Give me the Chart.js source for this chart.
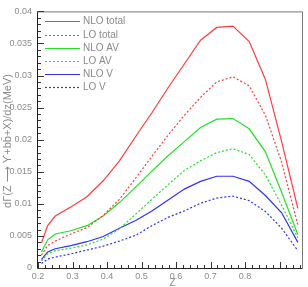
<!DOCTYPE html>
<html lang="en">
<head>
<meta charset="UTF-8">
<title>dGamma/dz</title>
<script src="https://cdn.jsdelivr.net/npm/chart.js"></script>
<style>
  html, body { margin: 0; padding: 0; background: #fff; }
  #wrap { width: 308px; height: 287px; position: relative; }
</style>
</head>
<body>
<div id="wrap"><canvas id="chart"></canvas></div>
<script>
// z points of the curves
const zValues = [0.21, 0.228, 0.25, 0.295, 0.342, 0.389, 0.436, 0.483, 0.53, 0.577,
                 0.624, 0.671, 0.718, 0.765, 0.812, 0.859, 0.906, 0.953];

const nloTotal = [0.0039, 0.0066, 0.0081, 0.0095, 0.0111, 0.0136, 0.0167, 0.0205, 0.0242, 0.0281,
                  0.0318, 0.0355, 0.0375, 0.0377, 0.0353, 0.0294, 0.0197, 0.0093];
const loTotal  = [0.0020, 0.0035, 0.0042, 0.0053, 0.0063, 0.0082, 0.0107, 0.0140, 0.0174, 0.0207,
                  0.0238, 0.0266, 0.0290, 0.0298, 0.0284, 0.0238, 0.0165, 0.0067];
const nloAV    = [0.0025, 0.0044, 0.0053, 0.0058, 0.0066, 0.0081, 0.0102, 0.0126, 0.0151, 0.0175,
                  0.0197, 0.0219, 0.0232, 0.0233, 0.0217, 0.0181, 0.0118, 0.0052];
const loAV     = [0.0011, 0.0022, 0.0027, 0.0031, 0.0036, 0.0045, 0.0061, 0.0084, 0.0107, 0.0130,
                  0.0152, 0.0167, 0.0180, 0.0186, 0.0177, 0.0145, 0.0098, 0.0047];
const nloV     = [0.0013, 0.0025, 0.0030, 0.0035, 0.0041, 0.0049, 0.0062, 0.0074, 0.0089, 0.0106,
                  0.0123, 0.0135, 0.0143, 0.0143, 0.0135, 0.0113, 0.0086, 0.0040];
const loV      = [0.0007, 0.0014, 0.0017, 0.0022, 0.0028, 0.0034, 0.0042, 0.0051, 0.0066, 0.0079,
                  0.0089, 0.0101, 0.0109, 0.0112, 0.0105, 0.0088, 0.0062, 0.0027];

const seriesNames = ['NLO total', 'LO total', 'NLO AV', 'LO AV', 'NLO V', 'LO V'];
const xTitle = 'Z';
const yTitle = 'd\u0393(Z \u27F6 \u03D2+bb\u0304+X)/dz(MeV)';

const RED = '#ff3c3c', GREEN = '#22e022', BLUE = '#3030ff';
const TXT = '#8a8a8a';
const FONT = '"Liberation Sans", Arial, sans-serif';

function mk(label, vals, color, dashed) {
    return {
        label: label,
        data: zValues.map((z, i) => ({ x: z, y: vals[i] })),
        borderColor: color,
        borderWidth: 1.2,
        borderDash: dashed ? [2, 2] : [],
        pointRadius: 0,
        fill: false,
        tension: 0
    };
}

// inward ticks, legend and axis titles
const decor = {
    id: 'decor',
    afterDraw(chart) {
        const ctx = chart.ctx;
        const a = chart.chartArea;
        const xs = chart.scales.x, ys = chart.scales.y;
        ctx.save();
        ctx.lineWidth = 1;
        // frame
        ctx.strokeStyle = '#777';
        ctx.beginPath();
        ctx.moveTo(a.left, a.top + 0.5); ctx.lineTo(a.right + 0.5, a.top + 0.5);
        ctx.lineTo(a.right + 0.5, a.bottom);
        ctx.stroke();
        ctx.strokeStyle = '#222';
        ctx.beginPath();
        ctx.moveTo(a.left - 0.5, a.top); ctx.lineTo(a.left - 0.5, a.bottom + 0.5);
        ctx.lineTo(a.right + 0.5, a.bottom + 0.5);
        ctx.stroke();
        // y ticks
        ctx.strokeStyle = '#333';
        ctx.beginPath();
        for (let i = 0; i <= 40; i++) {
            const py = Math.round(ys.getPixelForValue(i * 0.001)) + 0.5;
            const len = i % 5 === 0 ? 6 : 3;
            ctx.moveTo(a.left, py); ctx.lineTo(a.left + len, py);
        }
        // x ticks
        for (let i = 0; i <= 38; i++) {
            const v = 0.2 + i * 0.02;
            if (v > xs.max) break;
            const px = Math.round(xs.getPixelForValue(v)) + 0.5;
            const len = i % 5 === 0 ? 6 : 3;
            ctx.moveTo(px, a.bottom); ctx.lineTo(px, a.bottom - len);
        }
        ctx.stroke();

        // legend
        ctx.font = '10px ' + FONT;
        ctx.textBaseline = 'middle';
        chart.data.datasets.forEach((ds, i) => {
            const y = Math.round(a.top + 10 + i * 13.2) + 0.5;
            ctx.strokeStyle = ds.borderColor;
            ctx.lineWidth = 1.2;
            ctx.setLineDash(ds.borderDash);
            ctx.beginPath();
            ctx.moveTo(a.left + 7, y); ctx.lineTo(a.left + 42, y);
            ctx.stroke();
            ctx.setLineDash([]);
            ctx.fillStyle = TXT;
            ctx.fillText(ds.label, a.left + 45, y);
        });

        // axis titles
        ctx.fillStyle = TXT;
        ctx.font = '10px ' + FONT;
        ctx.textAlign = 'center';
        ctx.textBaseline = 'middle';
        ctx.fillText(xTitle, xs.getPixelForValue(0.59), a.bottom + 15);
        ctx.translate(8, 141);
        ctx.rotate(-Math.PI / 2);
        ctx.font = '11px ' + FONT;
        ctx.fillText(yTitle, 0, 0);
        ctx.restore();
    }
};

new Chart(document.getElementById('chart'), {
    type: 'line',
    data: {
        datasets: [
            mk(seriesNames[0], nloTotal, RED, false),
            mk(seriesNames[1], loTotal, RED, true),
            mk(seriesNames[2], nloAV, GREEN, false),
            mk(seriesNames[3], loAV, GREEN, true),
            mk(seriesNames[4], nloV, BLUE, false),
            mk(seriesNames[5], loV, BLUE, true)
        ]
    },
    options: {
        responsive: true,
        maintainAspectRatio: false,
        animation: false,
        layout: { padding: { left: 0, top: 3, right: 6, bottom: 0 } },
        plugins: { legend: { display: false }, tooltip: { enabled: false } },
        scales: {
            x: {
                type: 'linear',
                min: 0.2,
                max: 0.965,
                grid: { display: false, drawTicks: false },
                border: { display: false },
                afterFit(s) { s.height = 19; },
                afterBuildTicks(s) {
                    s.ticks = s.ticks.filter(t => Math.abs(t.value * 10 - Math.round(t.value * 10)) < 1e-6);
                },
                ticks: {
                    stepSize: 0.1,
                    padding: 3,
                    color: TXT,
                    font: { family: FONT, size: 9 },
                    maxRotation: 0,
                    callback: v => String(+v.toFixed(2))
                }
            },
            y: {
                min: 0,
                max: 0.04,
                grid: { display: false, drawTicks: false },
                border: { display: false },
                afterFit(s) { s.width = 38; },
                ticks: {
                    stepSize: 0.005,
                    padding: 6,
                    color: TXT,
                    font: { family: FONT, size: 9 },
                    callback: v => String(+v.toFixed(3))
                }
            }
        }
    },
    plugins: [decor]
});
</script>
</body>
</html>
